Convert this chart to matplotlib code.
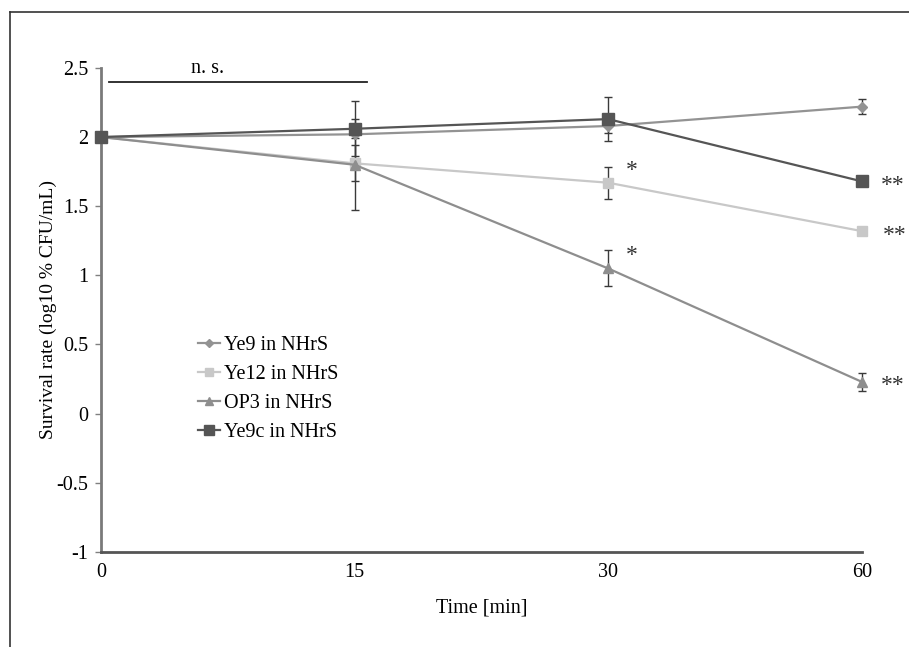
import numpy as np
import matplotlib
matplotlib.use("Agg")
import matplotlib.pyplot as plt
from matplotlib.lines import Line2D

plt.rcParams['font.family'] = ['Liberation Serif', 'DejaVu Serif']

# data
times = ["0", "15", "30", "60"]
labels = ["Ye9 in NHrS", "Ye12 in NHrS", "OP3 in NHrS", "Ye9c in NHrS"]
ye9 = [2.0, 2.02, 2.08, 2.22]
ye9_err = [0, 0.03, 0.05, 0.055]
ye12 = [2.0, 1.81, 1.67, 1.32]
ye12_err = [0, 0.13, 0.115, 0]
op3 = [2.0, 1.80, 1.05, 0.23]
op3_err = [0, 0.33, 0.13, 0.065]
ye9c = [2.0, 2.06, 2.13, 1.68]
ye9c_err = [0, 0.20, 0.16, 0]

# significance marks (series index, time index, text)
stars = [(1, 2, "*"), (2, 2, "*"), (3, 3, "**"), (1, 3, "**"), (2, 3, "**")]

series = [ye9, ye12, op3, ye9c]
errors = [ye9_err, ye12_err, op3_err, ye9c_err]
colors = ["#939393", "#c8c8c8", "#8e8e8e", "#555555"]
markers = ["D", "s", "^", "s"]
msizes = [5, 6.5, 7, 9]

fig = plt.figure(figsize=(9.09, 6.47), dpi=100)
ax = fig.add_axes([0.111, 0.147, 0.837, 0.748])

x = np.arange(len(times))
for vals, err, c, m, ms, lab in zip(series, errors, colors, markers, msizes, labels):
    ax.plot(x, vals, color=c, marker=m, markersize=ms, lw=1.6, label=lab,
            clip_on=False, zorder=3)
    ax.errorbar(x, vals, yerr=err, fmt="none", ecolor="#3a3a3a", elinewidth=1,
                capsize=3, capthick=1, zorder=2, clip_on=False)

for si, ti, txt in stars:
    y = series[si][ti]
    if ti == 2:
        ax.text(x[ti] + 0.07, y + 0.09, txt, fontsize=17, color="#333333",
                ha="left", va="center")
    else:
        ax.text(x[ti] + 0.075 if si != 1 else x[ti] + 0.085, y - 0.03, txt,
                fontsize=17, color="#333333", ha="left", va="center")

# n.s. bracket
ax.plot([0.03, 1.05], [2.395, 2.395], color="#222222", lw=1.3, clip_on=False)
ax.text(0.42, 2.495, "n. s.", fontsize=14.5, ha="center", va="center")

ax.set_xlim(0, 3)
ax.set_ylim(-1, 2.5)
ax.set_yticks(np.arange(-1, 2.51, 0.5))
ax.set_yticklabels(["-1", "-0.5", "0", "0.5", "1", "1.5", "2", "2.5"])
ax.set_xticks(x)
ax.set_xticklabels(times)
ax.tick_params(axis="y", length=4, width=1, color="#808080", labelsize=14.5, pad=5)
ax.tick_params(axis="x", length=0, labelsize=14.5, pad=8)

for s in ["top", "right"]:
    ax.spines[s].set_visible(False)
ax.spines["left"].set_color("#7a7a7a")
ax.spines["left"].set_linewidth(2)
ax.spines["bottom"].set_color("#555555")
ax.spines["bottom"].set_linewidth(2)

ax.set_ylabel("Survival rate (log10 % CFU/mL)", fontsize=14, labelpad=0)
ax.set_xlabel("Time [min]", fontsize=14.5, labelpad=12)

ax.legend(loc="upper left", bbox_to_anchor=(0.128, 0.447), frameon=False,
          fontsize=14.5, handlelength=1.1, handletextpad=0.2, labelspacing=0.5,
          borderpad=0, borderaxespad=0, markerscale=0.8)

# page frame
fig.add_artist(Line2D([10 / 909, 1], [1 - 12 / 647, 1 - 12 / 647],
                      transform=fig.transFigure, color="#333333", lw=1.2))
fig.add_artist(Line2D([10 / 909, 10 / 909], [0, 1 - 12 / 647],
                      transform=fig.transFigure, color="#333333", lw=1.2))

fig.savefig("out.png", dpi=100)
